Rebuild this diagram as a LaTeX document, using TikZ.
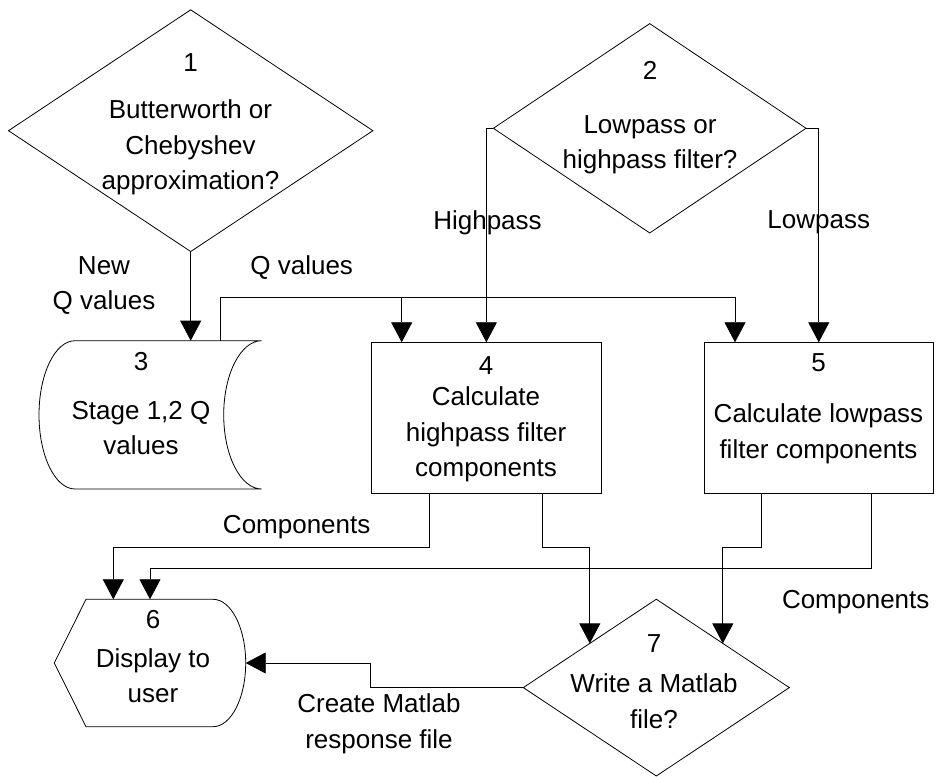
\documentclass[tikz,border=0pt]{standalone}
\usepackage{fontspec}
\setmainfont{Liberation Sans}
\usetikzlibrary{shapes.geometric,arrows.meta}

\tikzset{
  lbl/.style={font=\fontsize{26}{35.5}\selectfont, align=center, anchor=base, inner sep=0pt},
  decision/.style={diamond, draw, line width=0.8pt, inner sep=0pt, outer sep=0pt},
  process/.style={rectangle, draw, line width=0.8pt, inner sep=0pt, outer sep=0pt},
  frame/.style={rectangle, inner sep=0pt, outer sep=0pt},
  flow/.style={line width=0.8pt, -{Triangle[length=20pt,width=21pt]}},
}

\begin{document}
\begin{tikzpicture}[x=1pt,y=1pt]
    \useasboundingbox (0,0) rectangle (936,776);

    % Formas
    \node[decision, minimum width=364.4pt, minimum height=241.7pt] (d1) at (190.7,645.3) {};
    \node[decision, minimum width=312.7pt, minimum height=209.3pt] (d2) at (649.7,647.7) {};
    \node[frame, minimum width=186.7pt, minimum height=148.3pt] (s3) at (168.35,361.15) {};
    \node[process, minimum width=229.3pt, minimum height=151pt] (b4) at (486.35,358.2) {};
    \node[process, minimum width=229.5pt, minimum height=151pt] (b5) at (818.75,358.2) {};
    \node[frame, minimum width=191.4pt, minimum height=127.4pt] (d6) at (150,113) {};
    \node[decision, minimum width=266pt, minimum height=176.8pt] (d7) at (656.3,88.4) {};

    % Datos almacenados
    \draw[line width=0.8pt] (s3.north west)
        arc[start angle=90, end angle=270, x radius=36pt, y radius=74.15pt]
        -- (s3.south east)
        arc[start angle=270, end angle=90, x radius=38pt, y radius=74.15pt] -- cycle;

    % Pantalla
    \draw[line width=0.8pt] (d6.west) -- ([xshift=31.7pt]d6.north west)
        -- ([xshift=-32.7pt]d6.north east)
        arc[start angle=90, end angle=-90, x radius=32.7pt, y radius=63.7pt]
        -- ([xshift=31.7pt]d6.south west) -- cycle;

    % Textos (base = ultima linea)
    \node[lbl] (t1) at (190.5,586) {1\\[12pt]Butterworth or\\Chebyshev\\approximation?};
    \node[lbl] (t2) at (650,607) {2\\[18pt]Lowpass or\\highpass filter?};
    \node[lbl] (t3) at (141,321) {3\\[13pt]Stage 1,2 Q\\values};
    \node[lbl] (t4) at (486,299.3) {4\\[-4pt]Calculate\\highpass filter\\components};
    \node[lbl] (t5) at (818.5,317.7) {5\\[16pt]Calculate lowpass\\filter components};
    \node[lbl] (t6) at (153,73.3) {6\\[3pt]Display to\\user};
    \node[lbl] (t7) at (654,47.7) {7\\[5pt]Write a Matlab\\file?};

    % Conexiones
    \coordinate (qbus) at (220,478.5);
    \draw[flow] (d1.south) -- (d1.south |- s3.north);
    \draw[flow] ([xshift=145pt]s3.north west) -- (qbus) -| ([xshift=-83.75pt]b5.north);
    \draw[flow] ([xshift=-84.65pt]b4.north |- qbus) -- ([xshift=-84.65pt]b4.north);
    \draw[flow] (d2.west) -| (b4.north);
    \draw[flow] (d2.east) -| (b5.north);
    \draw[flow] ([xshift=-57.35pt]b4.south) -- ++(0,-54) -| ([xshift=-36.7pt]d6.north);
    \draw[flow] ([xshift=56.35pt]b4.south) -- ++(0,-54) -| (d7.north west);
    \draw[flow] ([xshift=-57.05pt]b5.south) -- ++(0,-54) -| (d7.north east);
    \draw[flow] ([xshift=52.25pt]b5.south) -- ++(0,-75) -| (d6.north);
    \draw[flow] (d7.west) -- ++(-153.3,0) |- (d6.east);

    % Etiquetas de flujo
    \node[lbl] (lnew) at (104,466) {New\\Q values};
    \node[lbl] (lq) at (301.7,501) {Q values};
    \node[lbl] (lhigh) at (487.5,546) {Highpass};
    \node[lbl] (llow) at (818.7,547.7) {Lowpass};
    \node[lbl] (lcomp1) at (296.7,242.7) {Components};
    \node[lbl] (lcomp2) at (855.7,167.7) {Components};
    \node[lbl] (lmat) at (379,27.7) {Create Matlab\\response file};
\end{tikzpicture}
\end{document}
